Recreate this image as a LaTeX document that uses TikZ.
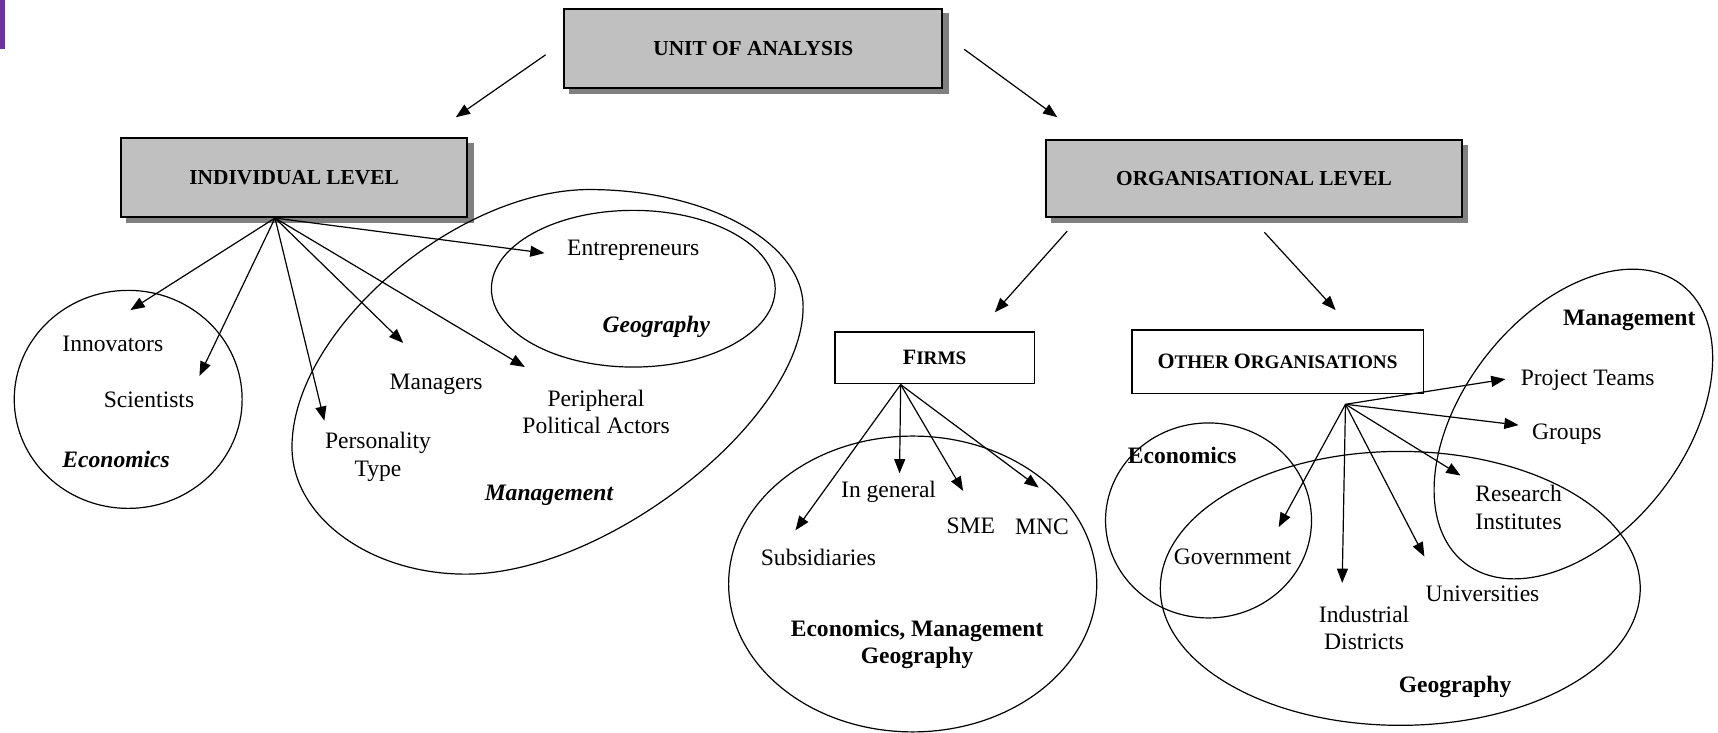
\documentclass[tikz,border=0pt]{standalone}
\usepackage{fontspec}
\setmainfont{Liberation Serif}
\usetikzlibrary{arrows.meta,backgrounds}
\definecolor{boxgray}{RGB}{192,192,192}
\definecolor{shadowgray}{RGB}{128,128,128}
\definecolor{barpurple}{RGB}{112,48,160}
\begin{document}
\begin{tikzpicture}[x=1pt,y=-1pt,
  hdr/.style={draw=black, line width=1.6pt, fill=boxgray, inner sep=0pt,
    font=\fontsize{19.5}{22}\selectfont\bfseries},
  subbox/.style={draw=black, line width=1.4pt, fill=white, inner sep=0pt,
    font=\bfseries},
  txt/.style={inner sep=0pt, align=center, font=\fontsize{21.5}{25}\selectfont},
  bi/.style={inner sep=0pt, align=center, font=\fontsize{21.5}{25}\selectfont\bfseries\itshape},
  bu/.style={inner sep=0pt, align=center, font=\fontsize{21.5}{25}\selectfont\bfseries},
  region/.style={draw=black, line width=1.1pt},
  conn/.style={-{Triangle[length=13pt,width=10pt]}, line width=1.1pt}
]
\useasboundingbox (0,0) rectangle (1568,669);
\fill[barpurple] (0,0) rectangle (5,45);

% header boxes
\node[hdr, minimum width=345pt, minimum height=72pt] (unit) at (687.5,44) {UNIT OF ANALYSIS};
\node[hdr, minimum width=316pt, minimum height=72pt] (indiv) at (268.5,162) {INDIVIDUAL LEVEL};
\node[hdr, minimum width=379pt, minimum height=70pt] (org) at (1144.5,163) {ORGANISATIONAL LEVEL};
\begin{scope}[on background layer]
  \foreach \n in {unit,indiv,org}
    \fill[shadowgray] ([shift={(5,5)}]\n.south west) rectangle ([shift={(5,5)}]\n.north east);
\end{scope}

\node[subbox, minimum width=182pt, minimum height=47pt] (firms) at (853,326.5)
  {{\fontsize{20}{22}\selectfont F}{\fontsize{17.5}{22}\selectfont IRMS}};
\node[subbox, minimum width=266pt, minimum height=58pt] (other) at (1166,330)
  {{\fontsize{20}{22}\selectfont O}{\fontsize{17.5}{22}\selectfont THER }{\fontsize{20}{22}\selectfont O}{\fontsize{17.5}{22}\selectfont RGANISATIONS}};

% regions
\draw[region] (117,364.5) ellipse [x radius=104pt, y radius=99.5pt];
\draw[region] (578,263.5) ellipse [x radius=129.5pt, y radius=71.5pt];
\draw[region] (266.5,408) .. controls (266.5,302) and (416,173) .. (538,173)
  .. controls (645,173) and (733,221) .. (733,280)
  .. controls (733,382.5) and (554,524) .. (425,524)
  .. controls (337.8,524) and (266.5,471.8) .. (266.5,408) -- cycle;
\draw[region] (833,533) ellipse [x radius=168pt, y radius=135pt];
\draw[region] (1103,475) ellipse [x radius=94pt, y radius=89pt];
\draw[region] (1278,537) ellipse [x radius=219pt, y radius=125pt];
\draw[region, rotate around={52:(1436,387)}] (1436,387) ellipse [x radius=161pt, y radius=101pt];

% texts left
\node[txt] (innov) at (103,314) {Innovators};
\node[txt] (scient) at (136,365) {Scientists};
\node[bi] (econL) at (106,419) {Economics};
\node[txt] (perso) at (345,417) {Personality\\Type};
\node[txt] (manag) at (398,351) {Managers};
\node[txt] (periph) at (544,376) {Peripheral\\Political Actors};
\node[bi] (mgmtL) at (501,452) {Management};
\node[txt] (entre) at (578,228) {Entrepreneurs};
\node[bi] (geoL) at (599,298) {Geography};

% texts firms
\node[txt] (ingen) at (811,449) {In general};
\node[txt] (sme) at (886,480) {SME};
\node[txt] (mnc) at (951,481) {MNC};
\node[txt] (subs) at (747,509) {Subsidiaries};
\node[bu] (emg) at (837,588) {Economics, Management\\Geography};

% texts other organisations
\node[txt] (proj) at (1449,347) {Project Teams};
\node[txt] (groups) at (1430,396) {Groups};
\node[txt] (resin) at (1386,463) {Research\\Institutes};
\node[txt] (univ) at (1353,542) {Universities};
\node[txt] (indd) at (1245,573) {Industrial\\Districts};
\node[txt] (gov) at (1125,508) {Government};
\node[bu] (econR) at (1079,416) {Economics};
\node[bu] (mgmtR) at (1487,292) {Management};
\node[bu] (geoR) at (1328,627) {Geography};

% connector end points
\coordinate (a1s) at (498,50);  \coordinate (a1e) at (416,107);
\coordinate (a2s) at (880,45);  \coordinate (a2e) at (965,107);
\coordinate (a3s) at (974,211); \coordinate (a3e) at (908,285);
\coordinate (a4s) at (1154,212);\coordinate (a4e) at (1219,283);

\coordinate (isrc) at (251,199);
\coordinate (tInn) at (119,283);
\coordinate (tSci) at (182,343);
\coordinate (tPer) at (296,384);
\coordinate (tMan) at (368,313);
\coordinate (tPeri) at (479,335);
\coordinate (tEnt) at (497,231);

\coordinate (fsrc) at (822,351);
\coordinate (tSub) at (726,484);
\coordinate (tGen) at (821,432);
\coordinate (tSme) at (879,448);
\coordinate (tMnc) at (948,445);

\coordinate (osrc) at (1228,369);
\coordinate (tProj) at (1374,346);
\coordinate (tGr) at (1386,388);
\coordinate (tRes) at (1333,434);
\coordinate (tUni) at (1300,508);
\coordinate (tInd) at (1225,532);
\coordinate (tGov) at (1167,481);

\draw[conn] (a1s) -- (a1e);
\draw[conn] (a2s) -- (a2e);
\draw[conn] (a3s) -- (a3e);
\draw[conn] (a4s) -- (a4e);

\foreach \t in {tInn,tSci,tPer,tMan,tPeri,tEnt} \draw[conn] (isrc) -- (\t);
\foreach \t in {tSub,tGen,tSme,tMnc} \draw[conn] (fsrc) -- (\t);
\foreach \t in {tProj,tGr,tRes,tUni,tInd,tGov} \draw[conn] (osrc) -- (\t);
\end{tikzpicture}
\end{document}
